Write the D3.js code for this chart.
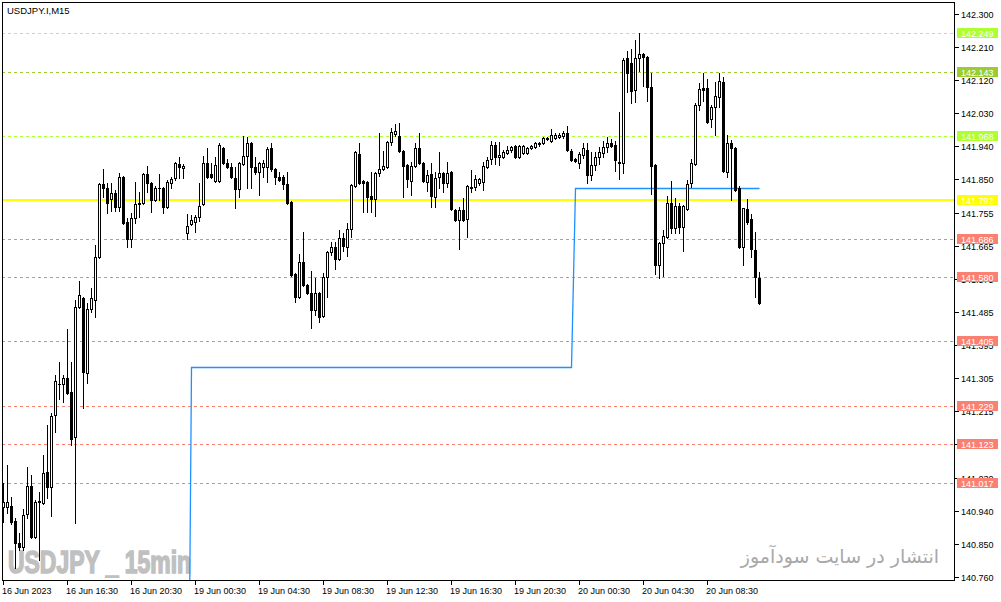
<!DOCTYPE html>
<html><head><meta charset="utf-8">
<script src="https://cdn.jsdelivr.net/npm/d3@7"></script>
<style>html,body{margin:0;padding:0;background:#fff;}svg{display:block;}</style>
</head><body>
<svg id="chart" width="1001" height="602"></svg>
<script>
const symbolTitle = "USDJPY.I,M15";
const openP = [140.952,140.952,140.955,140.914,140.853,140.842,140.933,141.009,140.870,140.964,140.963,141.047,141.006,141.203,141.288,141.288,141.305,141.266,141.143,141.499,141.524,141.318,141.493,141.518,141.636,141.836,141.825,141.795,141.811,141.773,141.855,141.732,141.685,141.743,141.781,141.784,141.863,141.838,141.792,141.825,141.825,141.773,141.838,141.852,141.890,141.879,141.702,141.726,141.732,141.745,141.781,141.893,141.863,141.844,141.844,141.934,141.893,141.882,141.852,141.822,141.890,141.912,141.948,141.882,141.868,141.882,141.882,141.934,141.877,141.855,141.855,141.836,141.787,141.589,141.527,141.622,141.559,141.537,141.491,141.537,141.474,141.581,141.650,141.663,141.630,141.688,141.663,141.713,141.830,141.918,141.844,141.841,141.803,141.795,141.865,141.877,141.882,141.951,141.972,141.967,141.926,141.887,141.844,141.885,141.934,141.893,141.841,141.863,141.800,141.855,141.865,141.838,141.868,141.765,141.737,141.765,141.740,141.825,141.827,141.838,141.841,141.882,141.904,141.942,141.909,141.909,141.920,141.929,141.940,141.909,141.920,141.920,141.934,141.937,141.946,141.948,141.959,141.953,141.962,141.964,141.967,141.975,141.926,141.904,141.893,141.915,141.929,141.860,141.887,141.909,141.920,141.937,141.948,141.942,141.893,141.893,142.180,142.167,142.093,142.180,142.191,142.183,142.101,141.887,141.614,141.674,141.691,141.784,141.715,141.776,141.718,141.767,141.838,141.890,142.052,142.098,142.098,142.013,142.046,142.074,142.115,141.868,141.948,141.934,141.825,141.663,141.767,141.740,141.655,141.578];
const highP = [141.017,141.066,140.979,140.922,140.881,140.946,141.061,141.039,140.971,140.993,141.093,141.176,141.208,141.313,141.348,141.313,141.439,141.348,141.518,141.570,141.527,141.510,141.551,141.669,141.838,141.877,141.838,141.838,141.819,141.865,141.857,141.743,141.756,141.841,141.814,141.865,141.885,141.841,141.830,141.863,141.827,141.846,141.855,141.895,141.909,141.890,141.754,141.751,141.751,141.838,141.912,141.934,141.893,141.909,141.948,141.937,141.904,141.893,141.882,141.895,141.967,141.964,141.951,141.909,141.895,141.901,141.937,141.948,141.879,141.868,141.860,141.868,141.789,141.592,141.644,141.704,141.562,141.598,141.578,141.540,141.592,141.652,141.677,141.677,141.710,141.701,141.729,141.836,141.926,141.948,141.846,141.844,141.868,141.868,141.975,141.926,141.953,141.989,142.000,142.002,141.929,141.890,141.895,141.948,141.975,141.895,141.874,141.893,141.868,141.923,141.868,141.895,141.871,141.767,141.773,141.797,141.833,141.874,141.860,141.852,141.895,141.909,141.953,141.951,141.951,141.929,141.940,141.940,141.942,141.942,141.942,141.937,141.942,141.951,141.951,141.964,141.964,141.986,141.975,141.975,141.981,141.994,141.931,141.907,141.923,141.948,141.948,141.923,141.923,141.937,141.953,141.964,141.959,141.953,142.032,142.180,142.199,142.205,142.230,142.249,142.194,142.186,142.139,141.890,141.677,141.710,141.803,141.844,141.797,141.784,141.778,141.846,141.904,142.057,142.112,142.139,142.123,142.052,142.115,142.139,142.128,141.970,141.956,141.937,141.830,141.770,141.795,141.754,141.704,141.595];
const lowP = [140.911,140.935,140.905,140.785,140.834,140.834,140.922,140.867,140.867,140.807,140.960,140.976,140.927,141.156,141.247,141.238,141.261,141.121,140.908,141.497,141.222,141.291,141.485,141.472,141.633,141.800,141.756,141.762,141.762,141.762,141.726,141.663,141.663,141.729,141.745,141.781,141.814,141.759,141.789,141.792,141.756,141.770,141.825,141.846,141.852,141.852,141.685,141.724,141.704,141.735,141.778,141.852,141.852,141.841,141.841,141.890,141.879,141.852,141.770,141.800,141.887,141.825,141.825,141.863,141.806,141.855,141.841,141.871,141.836,141.844,141.822,141.781,141.584,141.513,141.524,141.557,141.535,141.442,141.477,141.458,141.472,141.527,141.641,141.603,141.628,141.652,141.639,141.691,141.827,141.836,141.759,141.759,141.759,141.748,141.857,141.874,141.879,141.942,141.967,141.923,141.800,141.827,141.806,141.882,141.890,141.841,141.817,141.773,141.773,141.825,141.814,141.827,141.765,141.735,141.658,141.735,141.691,141.814,141.819,141.833,141.819,141.879,141.890,141.890,141.887,141.906,141.918,141.923,141.906,141.906,141.918,141.918,141.931,141.934,141.940,141.945,141.956,141.951,141.959,141.962,141.962,141.926,141.898,141.896,141.879,141.907,141.838,141.846,141.874,141.890,141.909,141.923,141.937,141.871,141.849,141.865,142.087,142.057,142.060,142.145,142.104,142.062,141.808,141.589,141.578,141.584,141.688,141.702,141.702,141.702,141.652,141.765,141.827,141.887,142.038,142.063,142.002,141.992,141.970,142.046,141.868,141.855,141.792,141.817,141.661,141.614,141.726,141.636,141.527,141.507];
const closeP = [140.966,140.966,140.911,140.853,140.842,140.930,141.009,140.870,140.966,140.968,141.044,141.006,141.200,141.296,141.289,141.305,141.263,141.137,141.499,141.532,141.321,141.493,141.524,141.636,141.836,141.825,141.784,141.811,141.773,141.855,141.729,141.685,141.743,141.781,141.784,141.863,141.838,141.792,141.825,141.824,141.773,141.841,141.849,141.893,141.882,141.885,141.721,141.737,141.745,141.776,141.893,141.855,141.855,141.887,141.942,141.893,141.882,141.855,141.822,141.893,141.912,141.948,141.882,141.868,141.893,141.893,141.931,141.877,141.855,141.846,141.836,141.784,141.587,141.527,141.622,141.559,141.537,141.491,141.537,141.472,141.581,141.650,141.663,141.630,141.688,141.666,141.713,141.833,141.923,141.838,141.838,141.800,141.795,141.865,141.877,141.885,141.951,141.978,141.981,141.926,141.885,141.849,141.885,141.934,141.893,141.844,141.860,141.803,141.852,141.865,141.838,141.865,141.767,141.737,141.765,141.737,141.830,141.827,141.849,141.849,141.885,141.901,141.942,141.909,141.915,141.923,141.929,141.937,141.909,141.940,141.940,141.934,141.940,141.948,141.949,141.962,141.962,141.970,141.970,141.970,141.975,141.929,141.901,141.898,141.918,141.934,141.860,141.887,141.909,141.923,141.937,141.948,141.940,141.901,141.896,142.175,142.139,142.090,142.180,142.191,142.183,142.101,141.885,141.614,141.674,141.693,141.784,141.715,141.776,141.718,141.776,141.836,141.893,142.052,142.095,142.093,142.005,142.046,142.076,142.117,141.871,141.948,141.934,141.819,141.663,141.770,141.732,141.658,141.581,141.510];

// Indicator step line (bar index, price)
const blueBars = [46, 47, 142, 143, 189];
const blueVals = [139.96, 141.336, 141.336, 141.824, 141.824];

// Horizontal levels
const levelValues = [142.249, 142.143, 141.968, 141.792, 141.686, 141.580, 141.405, 141.229, 141.123, 141.017];
const levelKinds  = ["lime", "olive", "lime", "main", "red", "red", "red", "red", "red", "red"];

const priceTicks = [142.300,142.210,142.120,142.030,141.940,141.850,141.755,141.665,141.575,141.485,141.395,141.305,141.215,141.125,141.030,140.940,140.850,140.760];
const timeTickBars = [0,16,32,48,64,80,96,112,128,144,160,176];
const timeLabels = ["16 Jun 2023","16 Jun 16:30","16 Jun 20:30","19 Jun 00:30","19 Jun 04:30","19 Jun 08:30","19 Jun 12:30","19 Jun 16:30","19 Jun 20:30","20 Jun 00:30","20 Jun 04:30","20 Jun 08:30"];
const watermarkLeft = "USDJPY _ 15min";
const watermarkRight = "انتشار در سایت سودآموز";

const kindColor = {lime:"#adff2f", olive:"#9acd32", main:"#ffff00", red:"#fa8072"};

const W = 1001, H = 602;
const plot = {l:2, t:2, r:954, b:580};
const svg = d3.select("#chart");
const x = d3.scaleLinear().domain([0, 189]).range([3, 759]);
const y = d3.scaleLinear().domain([142.300, 140.760]).range([14.3, 577]);
const font = "'Liberation Sans', Arial, sans-serif";

svg.append("rect").attr("width", W).attr("height", H).attr("fill", "#fff");
svg.append("defs").append("clipPath").attr("id", "clip")
  .append("rect").attr("x", plot.l + 1).attr("y", plot.t + 1)
  .attr("width", plot.r - plot.l - 1).attr("height", plot.b - plot.t - 1);

// watermarks
svg.append("text").attr("x", 8).attr("y", 573)
  .attr("font-family", font).attr("font-weight", "bold").attr("font-size", 31)
  .attr("fill", "#c0c0c0").attr("stroke", "#c0c0c0").attr("stroke-width", 1.6)
  .attr("textLength", 183).attr("lengthAdjust", "spacingAndGlyphs")
  .text(watermarkLeft);
svg.append("text").attr("x", 939).attr("y", 563)
  .attr("font-family", "'DejaVu Sans', sans-serif").attr("font-size", 19)
  .attr("fill", "#a8a8a8").attr("text-anchor", "end")
  .text(watermarkRight);

const g = svg.append("g").attr("clip-path", "url(#clip)");

// level lines
levelValues.forEach((v, i) => {
  const yy = Math.round(y(v));
  if (levelKinds[i] === "main") {
    g.append("rect").attr("x", plot.l).attr("y", yy - 1).attr("width", plot.r - plot.l).attr("height", 2)
      .attr("fill", kindColor.main);
  } else {
    g.append("line").attr("x1", plot.l).attr("x2", plot.r).attr("y1", yy + 0.5).attr("y2", yy + 0.5)
      .attr("stroke", kindColor[levelKinds[i]]).attr("stroke-width", 1).attr("stroke-dasharray", "3,3");
  }
});

// indicator line
const bluePts = blueBars.map((b, i) => [x(b) + 0.5, Math.round(y(blueVals[i])) + 0.5]);
g.append("path").attr("d", d3.line()(bluePts)).attr("fill", "none")
  .attr("stroke", "#1e90ff").attr("stroke-width", 1.3);

// candles
const idx = d3.range(openP.length);
const cg = g.append("g");
idx.forEach(i => {
  const cx = Math.round(x(i));
  const yH = Math.round(y(highP[i])), yL = Math.round(y(lowP[i]));
  const yO = Math.round(y(openP[i])), yC = Math.round(y(closeP[i]));
  const top = Math.min(yO, yC), bot = Math.max(yO, yC);
  cg.append("rect").attr("x", cx).attr("y", yH).attr("width", 1).attr("height", Math.max(1, yL - yH + 1)).attr("fill", "#000");
  cg.append("rect").attr("x", cx - 1).attr("y", top).attr("width", 3).attr("height", bot - top + 1).attr("fill", "#000");
  if (closeP[i] > openP[i] && bot - top >= 2) {
    cg.append("rect").attr("x", cx).attr("y", top + 1).attr("width", 1).attr("height", bot - top - 1).attr("fill", "#fff");
  }
});

// frame
svg.append("rect").attr("x", plot.l + 0.5).attr("y", plot.t + 0.5)
  .attr("width", plot.r - plot.l).attr("height", plot.b - plot.t)
  .attr("fill", "none").attr("stroke", "#000").attr("stroke-width", 1);

// title
svg.append("text").attr("x", 7).attr("y", 14).attr("font-family", font).attr("font-size", 9.5)
  .attr("fill", "#000").text(symbolTitle);

// price axis
const fmt = d3.format(".3f");
const pa = svg.append("g");
priceTicks.forEach(p => {
  const yy = Math.round(y(p));
  pa.append("rect").attr("x", plot.r + 1).attr("y", yy).attr("width", 4).attr("height", 1).attr("fill", "#000");
  pa.append("text").attr("x", 961).attr("y", yy + 3.5).attr("font-family", font).attr("font-size", 9)
    .attr("fill", "#000").text(fmt(p));
});
levelValues.forEach((v, i) => {
  const yy = Math.round(y(v));
  pa.append("rect").attr("x", 957).attr("y", yy - 5).attr("width", 41).attr("height", 10)
    .attr("fill", kindColor[levelKinds[i]]);
  pa.append("text").attr("x", 961).attr("y", yy + 3.5).attr("font-family", font).attr("font-size", 9)
    .attr("fill", "#fff").text(fmt(v));
});

// time axis
const ta = svg.append("g");
timeTickBars.forEach((b, i) => {
  const xx = Math.round(x(b));
  ta.append("rect").attr("x", xx).attr("y", plot.b + 1).attr("width", 1).attr("height", 4).attr("fill", "#000");
  ta.append("text").attr("x", xx - 1).attr("y", 594).attr("font-family", font).attr("font-size", 9)
    .attr("fill", "#000").text(timeLabels[i]);
});
</script>
</body></html>
